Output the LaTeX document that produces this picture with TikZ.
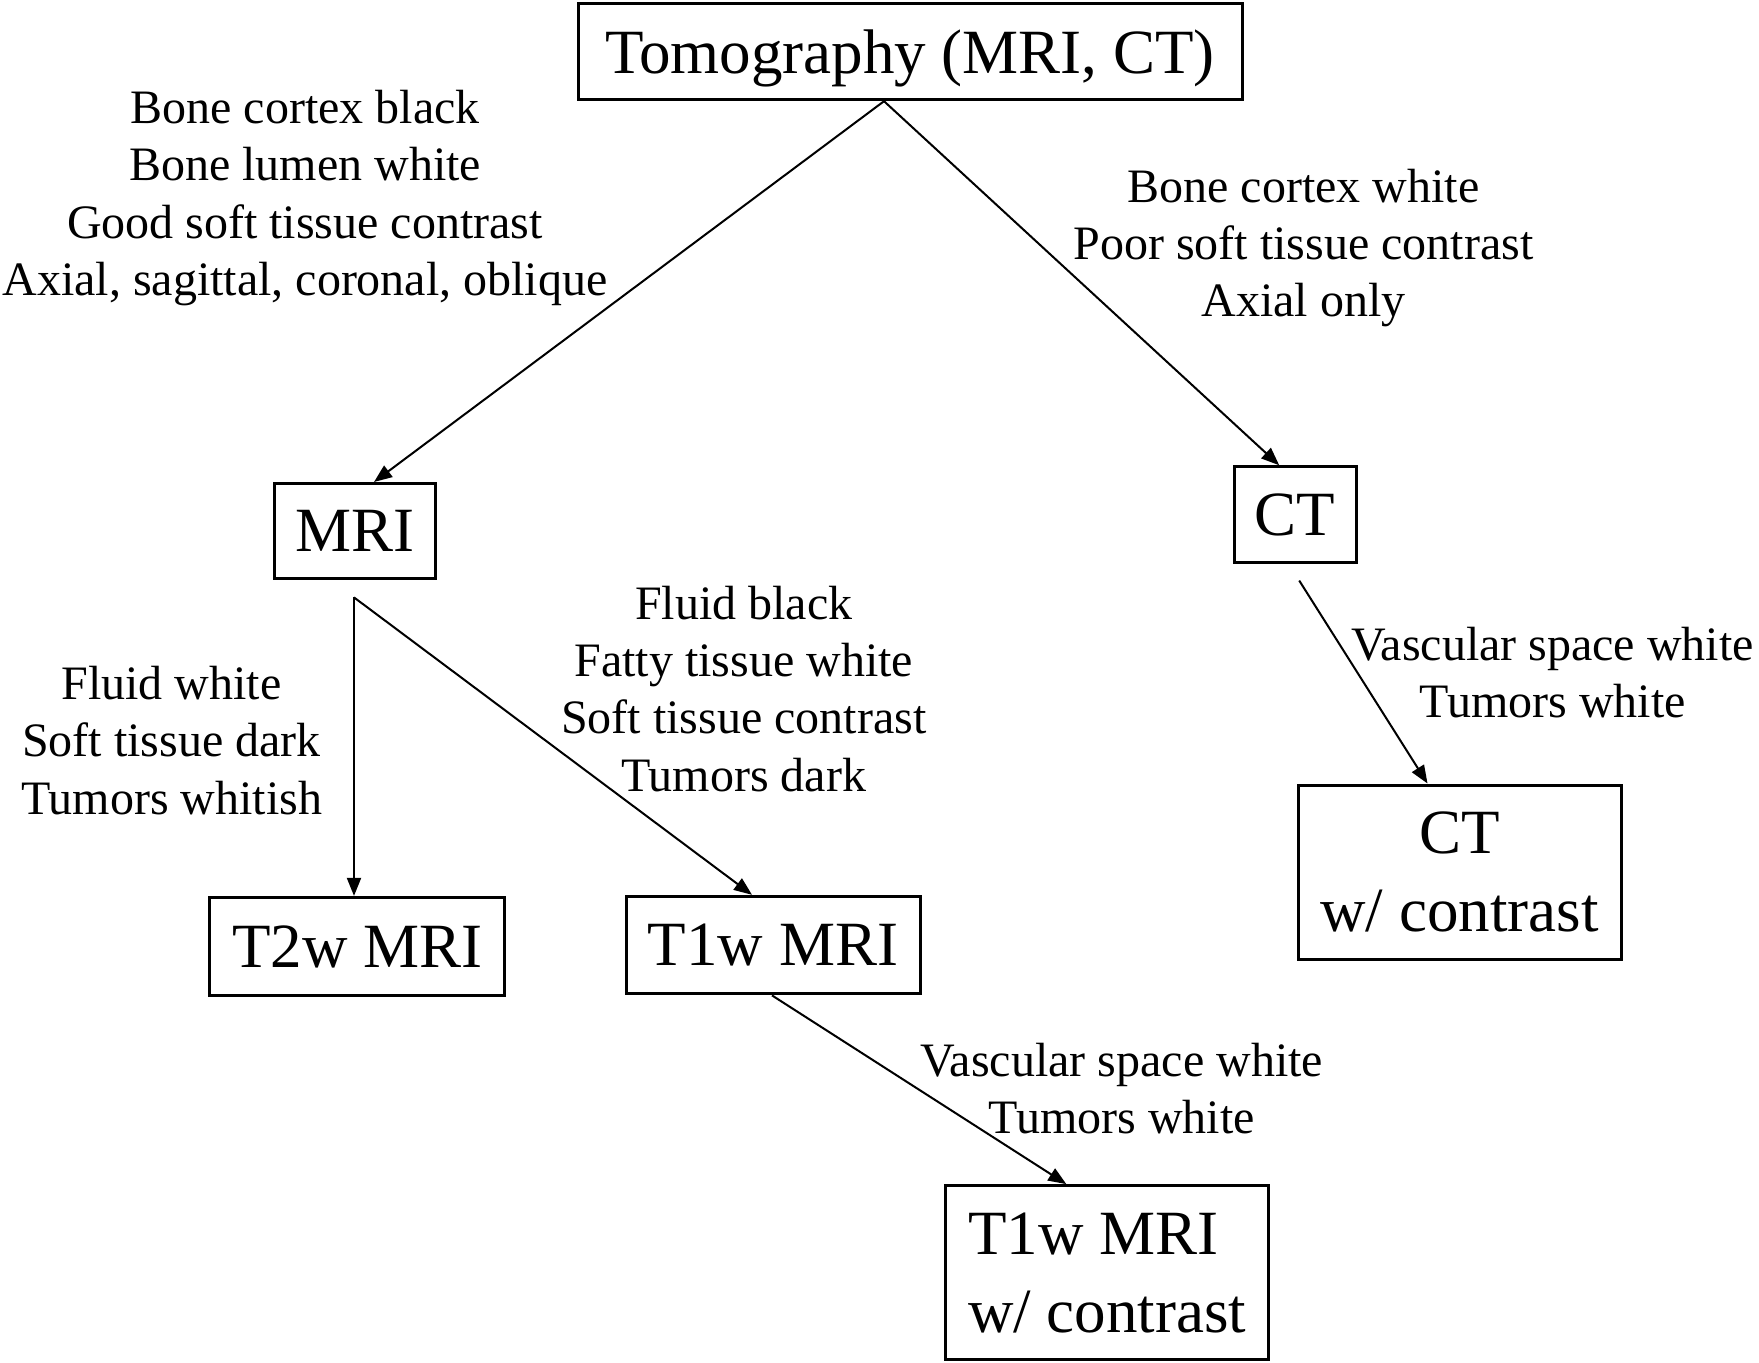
\documentclass[tikz,border=0pt]{standalone}
\usepackage{fontspec}
\setmainfont{Liberation Serif}
\usetikzlibrary{arrows.meta}
\begin{document}
\begin{tikzpicture}[x=0.5pt,y=-0.5pt,
 box/.style={draw,line width=1.5pt,inner sep=0pt,text depth=0pt,font=\fontsize{31.5}{39}\selectfont,align=center},
 lbl/.style={align=center,inner sep=0pt,font=\fontsize{24}{28.6}\selectfont},
 arr/.style={line width=1pt,-{Triangle[length=9pt,width=7pt]}}]
\useasboundingbox (0,0) rectangle (1759,1363);
\node[box,minimum width=332pt,minimum height=48.2pt] (tomo) at (910,51.5) {Tomography (MRI, CT)};
\node[box,minimum width=80.25pt,minimum height=47.7pt] (mri) at (355,531.2) {MRI};
\node[box,minimum width=61.15pt,minimum height=47.65pt] (ct) at (1295.2,514.4) {CT};
\node[box,minimum width=147.5pt,minimum height=48.8pt] (t2) at (357.3,946.2) {T2w MRI};
\node[box,minimum width=147pt,minimum height=48.8pt] (t1) at (773,945.1) {T1w MRI};
\node[box,minimum width=161.5pt,minimum height=87pt] (ctc) at (1459.5,872) {CT\\w/ contrast};
\node[box,align=left,minimum width=161.5pt,minimum height=87pt] (t1c) at (1107.3,1272.6) {T1w MRI\\w/ contrast};

\node[lbl] (l1) at (305,198) {Bone cortex black\\Bone lumen white\\Good soft tissue contrast\\Axial, sagittal, coronal, oblique};
\node[lbl] (l2) at (1303.6,248) {Bone cortex white\\Poor soft tissue contrast\\Axial only};
\node[lbl] (l3) at (171.6,740.4) {Fluid white\\Soft tissue dark\\Tumors whitish};
\node[lbl] (l4) at (743.8,688.8) {Fluid black\\Fatty tissue white\\Soft tissue contrast\\Tumors dark};
\node[lbl] (l5) at (1552.6,672.5) {Vascular space white\\Tumors white};
\node[lbl] (l6) at (1121.8,1088.7) {Vascular space white\\Tumors white};

\coordinate (tomoout) at ([xshift=-13pt]tomo.south);
\coordinate (mriout) at ([xshift=-0.5pt,yshift=-8.5pt]mri.south);
\coordinate (ctout) at ([xshift=2pt,yshift=-8.5pt]ct.south);
\coordinate (t1out) at ([xshift=-0.5pt]t1.south);
\draw[arr] (tomoout) -- ([xshift=9.5pt]mri.north);
\draw[arr] (tomoout) -- ([xshift=-8pt]ct.north);
\draw[arr] (mriout) -- ([xshift=-1.65pt]t2.north);
\draw[arr] (mriout) -- ([xshift=-10.5pt]t1.north);
\draw[arr] (ctout) -- ([xshift=-16pt]ctc.north);
\draw[arr] (t1out) -- ([xshift=-20.5pt]t1c.north);
\end{tikzpicture}
\end{document}
